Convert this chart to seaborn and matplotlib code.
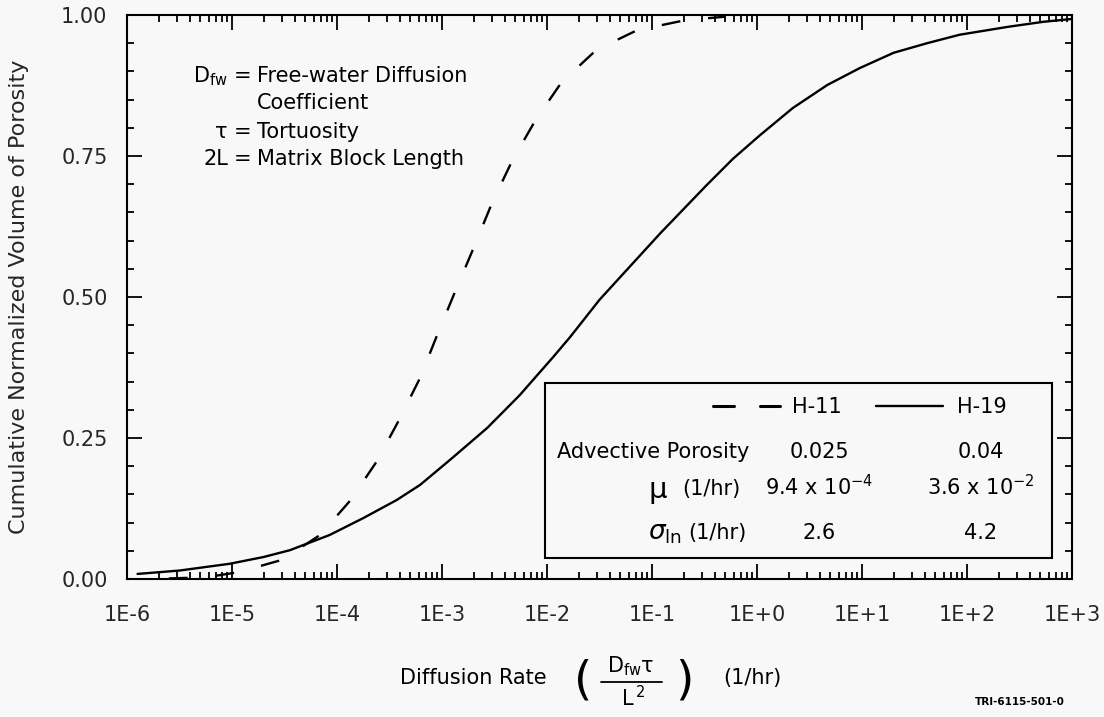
import numpy as np
import pandas as pd
import matplotlib
matplotlib.use("Agg")
import matplotlib.pyplot as plt
import seaborn as sns
from matplotlib.lines import Line2D
from matplotlib.patches import Rectangle
from matplotlib.ticker import FixedLocator, LogLocator, MultipleLocator, NullFormatter

# ---------------- data ----------------
h19_rate = [1.26e-6, 3.16e-6, 9.5e-6, 2.0e-5, 3.55e-5, 8.5e-5, 1.78e-4, 3.7e-4,
            6.2e-4, 1.26e-3, 2.7e-3, 5.5e-3, 1.15e-2, 1.66e-2, 3.16e-2, 5.75e-2,
            0.12, 0.33, 0.59, 1.07, 2.19, 4.68, 9.55, 20.0, 41.7, 85.0,
            245.0, 537.0, 1000.0]
h19_cum = [0.009, 0.015, 0.027, 0.039, 0.051, 0.078, 0.108, 0.140,
           0.167, 0.215, 0.268, 0.326, 0.394, 0.429, 0.495, 0.548,
           0.613, 0.698, 0.745, 0.787, 0.835, 0.876, 0.906, 0.933, 0.950, 0.965,
           0.979, 0.988, 0.993]

h11_rate = [2.5e-6, 5.6e-6, 1.15e-5, 3.0e-5, 6.9e-5, 1.35e-4, 2.4e-4, 3.9e-4,
            6.2e-4, 9.1e-4, 1.35e-3, 2.0e-3, 3.0e-3, 4.7e-3, 7.8e-3, 1.38e-2,
            2.95e-2, 7.2e-2, 0.21, 0.5]
h11_cum = [0.001, 0.003, 0.012, 0.034, 0.078, 0.140, 0.209, 0.282,
           0.357, 0.435, 0.512, 0.587, 0.667, 0.743, 0.814, 0.881,
           0.938, 0.973, 0.991, 0.997]

x_ticks = [1e-6, 1e-5, 1e-4, 1e-3, 1e-2, 1e-1, 1e0, 1e1, 1e2, 1e3]
x_tick_labels = ["1E-6", "1E-5", "1E-4", "1E-3", "1E-2", "1E-1", "1E+0", "1E+1", "1E+2", "1E+3"]
y_ticks = [0.0, 0.25, 0.50, 0.75, 1.00]
y_tick_labels = ["0.00", "0.25", "0.50", "0.75", "1.00"]

series_names = ["H-11", "H-19"]
row_names = ["Advective Porosity", "(1/hr)", "(1/hr)"]
h11_params = ["0.025", "9.4 x 10$^{-4}$", "2.6"]
h19_params = ["0.04", "3.6 x 10$^{-2}$", "4.2"]

# ---------------- style ----------------
sns.set_theme(style="ticks")
plt.rcParams['font.family'] = ['DejaVu Sans']
plt.rcParams['mathtext.fontset'] = 'dejavusans'

FS = 15
BG = '#f8f8f8'
W, H = 1104, 717
fig = plt.figure(figsize=(W / 100, H / 100), dpi=100, facecolor=BG)
L, R, T, B = 127, 1072, 15, 579
ax = fig.add_axes([L / W, 1 - B / H, (R - L) / W, (B - T) / H])
ax.set_facecolor(BG)
ax.set_xscale('log')

df19 = pd.DataFrame({"rate": h19_rate, "cum": h19_cum})
df11 = pd.DataFrame({"rate": h11_rate, "cum": h11_cum})
sns.lineplot(data=df19, x="rate", y="cum", ax=ax, color='black', linewidth=1.7,
             estimator=None, sort=False)
sns.lineplot(data=df11, x="rate", y="cum", ax=ax, color='black', linewidth=1.7,
             linestyle=(0, (8, 11.8)), estimator=None, sort=False)

ax.set_xlim(1e-6, 1e3)
ax.set_ylim(0, 1)
ax.xaxis.set_major_locator(FixedLocator(x_ticks))
ax.set_xticklabels(x_tick_labels)
ax.xaxis.set_minor_locator(LogLocator(base=10, subs=np.arange(2, 10), numticks=30))
ax.xaxis.set_minor_formatter(NullFormatter())
ax.yaxis.set_major_locator(FixedLocator(y_ticks))
ax.set_yticklabels(y_tick_labels)
ax.yaxis.set_minor_locator(MultipleLocator(0.05))
ax.tick_params(which='both', direction='in', top=True, right=True, color='black', width=1.3)
ax.tick_params(which='major', length=11, labelsize=FS)
ax.tick_params(which='minor', length=5)
ax.tick_params(axis='y', which='major', pad=14)
ax.tick_params(axis='x', which='major', pad=19)
for s in ax.spines.values():
    s.set_linewidth(1.5)
    s.set_color('black')
ax.set_xlabel('')
ax.set_ylabel('Cumulative Normalized Volume of Porosity', fontsize=16, va='center')
ax.yaxis.set_label_coords((19 - L) / (R - L), 0.5)


def ftxt(px, py, s, **kw):
    kw.setdefault('fontsize', FS)
    kw.setdefault('color', 'black')
    return fig.text(px / W, 1 - py / H, s, **kw)


def fline(x1, x2, y, **kw):
    fig.add_artist(Line2D([x1 / W, x2 / W], [1 - y / H, 1 - y / H],
                          transform=fig.transFigure, color='black', **kw))


# ---------------- annotation upper left ----------------
ftxt(228, 82, r'D$_{\mathrm{fw}}$', ha='right', va='baseline')
ftxt(243, 82, '=', ha='center', va='baseline')
ftxt(257, 82, 'Free-water Diffusion', ha='left', va='baseline')
ftxt(257, 109, 'Coefficient', ha='left', va='baseline')
ftxt(228, 138, 'τ', ha='right', va='baseline')
ftxt(243, 138, '=', ha='center', va='baseline')
ftxt(257, 138, 'Tortuosity', ha='left', va='baseline')
ftxt(228, 165, '2L', ha='right', va='baseline')
ftxt(243, 165, '=', ha='center', va='baseline')
ftxt(257, 165, 'Matrix Block Length', ha='left', va='baseline')

# ---------------- legend / parameter box ----------------
bx0, bx1, by0, by1 = 545, 1052, 383, 558
ax.add_patch(Rectangle(((bx0 - L) / (R - L), (B - by1) / (B - T)),
                       (bx1 - bx0) / (R - L), (by1 - by0) / (B - T),
                       transform=ax.transAxes, facecolor=BG, edgecolor='black',
                       linewidth=1.5, zorder=5, clip_on=False))
fline(713, 734, 406, lw=2.2, zorder=6)
fline(760, 780, 406, lw=2.2, zorder=6)
ftxt(792, 413, series_names[0], ha='left', va='baseline', zorder=6)
fline(876, 943, 406, lw=1.7, zorder=6)
ftxt(957, 413, series_names[1], ha='left', va='baseline', zorder=6)

ftxt(749, 458, row_names[0], ha='right', va='baseline', zorder=6)
ftxt(648, 498, 'μ', ha='left', va='baseline', fontsize=21, zorder=6)
ftxt(740, 495, row_names[1], ha='right', va='baseline', zorder=6)
ftxt(648, 539, r'$\sigma_{\mathrm{ln}}$', ha='left', va='baseline', fontsize=19, zorder=6)
ftxt(747, 539, row_names[2], ha='right', va='baseline', zorder=6)

for py, v in zip([458, 495, 539], h11_params):
    ftxt(819, py, v, ha='center', va='baseline', zorder=6)
for py, v in zip([458, 495, 539], h19_params):
    ftxt(981, py, v, ha='center', va='baseline', zorder=6)

# ---------------- x axis title ----------------
ftxt(473, 684, 'Diffusion Rate', ha='center', va='baseline')
ftxt(583, 681, '(', ha='center', va='center', fontsize=34)
ftxt(684, 681, ')', ha='center', va='center', fontsize=34)
ftxt(631, 672, r'D$_{\mathrm{fw}}$τ', ha='center', va='baseline', fontsize=FS)
fline(601, 662, 682, lw=1.3)
ftxt(633, 706, r'L$^{\,2}$', ha='center', va='baseline', fontsize=FS)
ftxt(752, 684, '(1/hr)', ha='center', va='baseline')

ftxt(1020, 705, 'TRI-6115-501-0', ha='center', va='baseline', fontsize=7.5, fontweight='bold')

fig.savefig('out.png', dpi=100, facecolor=BG)
